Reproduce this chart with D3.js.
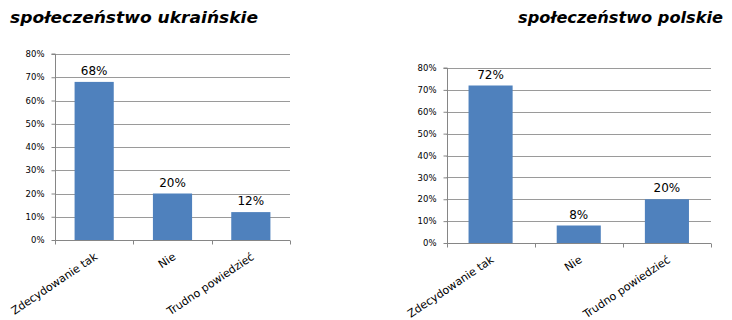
<!DOCTYPE html>
<html><head><meta charset="utf-8">
<script src="https://cdn.jsdelivr.net/npm/d3@7"></script>
<style>
html,body{margin:0;padding:0;background:#fff;}
svg{display:block;}
</style></head>
<body>
<svg id="chart" width="732" height="320"></svg>
<script>
const categories = ["Zdecydowanie tak", "Nie", "Trudno powiedzieć"];
const valuesUkrainian = [68, 20, 12];
const valuesPolish = [72, 8, 20];
const yTicks = [0, 10, 20, 30, 40, 50, 60, 70, 80];
const titles = ["społeczeństwo ukraińskie", "społeczeństwo polskie"];

const svg = d3.select("#chart");
const barColor = "#4F81BD";
const gridColor = "#9a9a9a";
const axisColor = "#868686";

function drawChart(cfg) {
  const g = svg.append("g");
  const x = d3.scaleBand().domain(categories).range([cfg.left, cfg.right]).paddingInner(0.5).paddingOuter(0.25);
  const xb = d3.scaleBand().domain(categories).range([cfg.left, cfg.right]);
  const y = d3.scaleLinear().domain([0, 80]).range([cfg.bottom, cfg.top]);

  // gridlines
  g.append("g").selectAll("line").data(yTicks.filter(d => d > 0)).join("line")
    .attr("x1", cfg.left).attr("x2", cfg.right)
    .attr("y1", d => Math.round(y(d)) + 0.5).attr("y2", d => Math.round(y(d)) + 0.5)
    .attr("stroke", gridColor).attr("stroke-width", 1.2);

  // y axis
  const yAxis = d3.axisLeft(y).tickValues(yTicks).tickFormat(d => d + "%").tickSize(4).tickPadding(7);
  const ya = g.append("g").attr("transform", `translate(${Math.round(cfg.left) + 0.5},0)`).call(yAxis);
  ya.selectAll("path,line").attr("stroke", axisColor);
  ya.select(".domain").attr("d", `M-4,${cfg.top}H0V${cfg.bottom}`);
  ya.selectAll("text").attr("font-family", "DejaVu Sans, Verdana, sans-serif").attr("font-size", 8.5).attr("fill", "#000");

  // bars
  g.append("g").selectAll("rect").data(cfg.values).join("rect")
    .attr("x", (d, i) => x(categories[i]))
    .attr("width", x.bandwidth())
    .attr("y", d => y(d))
    .attr("height", d => y(0) - y(d))
    .attr("fill", barColor);

  // x axis
  const xa = g.append("g").attr("transform", `translate(0,${Math.round(cfg.bottom) + 0.5})`);
  xa.append("line").attr("x1", cfg.left).attr("x2", cfg.right).attr("stroke", axisColor);
  const bounds = categories.map(c => xb(c)).concat([cfg.right]);
  xa.selectAll("line.tk").data(bounds).join("line").attr("class", "tk")
    .attr("x1", d => Math.round(d) + 0.5).attr("x2", d => Math.round(d) + 0.5)
    .attr("y1", 0).attr("y2", 4).attr("stroke", axisColor);
  xa.selectAll("text").data(categories).join("text")
    .attr("transform", c => `translate(${xb(c) + xb.bandwidth() / 2 + 4},${cfg.labelDy}) rotate(-34)`)
    .attr("text-anchor", "end")
    .attr("font-family", "DejaVu Sans, Verdana, sans-serif")
    .attr("font-size", 11)
    .attr("fill", "#000")
    .text(c => c);

  // value labels
  g.append("g").selectAll("text").data(cfg.values).join("text")
    .attr("x", (d, i) => x(categories[i]) + x.bandwidth() / 2)
    .attr("y", d => y(d) - 7)
    .attr("text-anchor", "middle")
    .attr("font-family", "DejaVu Sans, Verdana, sans-serif")
    .attr("font-size", 12)
    .attr("fill", "#000")
    .text(d => d + "%");

  // title
  svg.append("text")
    .attr("x", cfg.titleX).attr("y", 23)
    .attr("font-family", "DejaVu Sans, sans-serif")
    .attr("font-weight", "bold").attr("font-style", "italic")
    .attr("font-size", 15)
    .attr("textLength", cfg.titleW).attr("lengthAdjust", "spacingAndGlyphs")
    .attr("fill", "#000")
    .text(cfg.title);
}

drawChart({ left: 55, right: 290, top: 54, bottom: 240, values: valuesUkrainian, title: titles[0], titleX: 10, titleW: 248, labelDy: 18 });
drawChart({ left: 446.5, right: 711, top: 68, bottom: 243, values: valuesPolish, title: titles[1], titleX: 518, titleW: 205, labelDy: 18 });
</script>
</body></html>
